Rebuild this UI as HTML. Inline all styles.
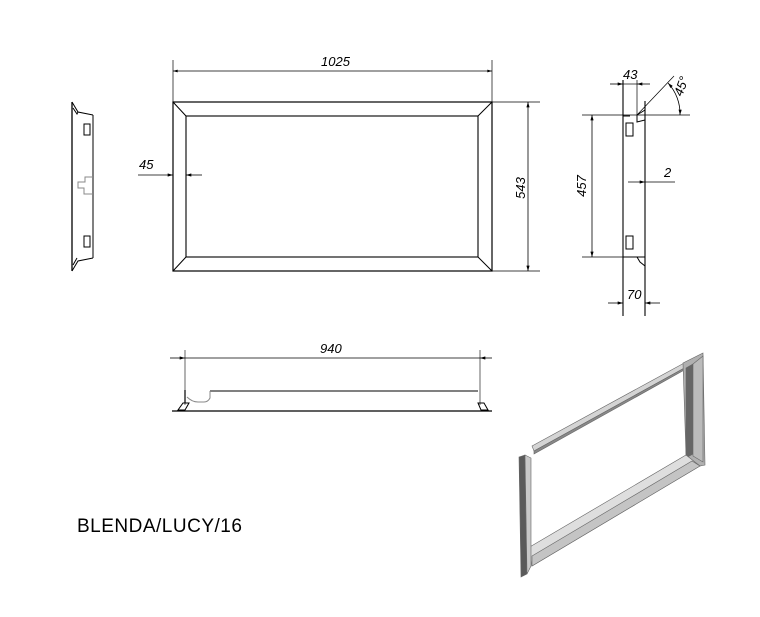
<!DOCTYPE html>
<html><head><meta charset="utf-8"><style>
html,body{margin:0;padding:0;background:#fff;}
svg{display:block;}
text{font-family:"Liberation Sans",sans-serif;font-style:italic;font-size:13px;fill:#000;}
</style></head><body>
<svg width="760" height="617" viewBox="0 0 760 617" xmlns="http://www.w3.org/2000/svg">
<defs>
<marker id="a" viewBox="0 0 10 6" refX="10" refY="3" markerWidth="8" markerHeight="4" orient="auto-start-reverse"><path d="M0,0L10,3L0,6z" fill="#000"/></marker>
</defs>
<g stroke="#000" stroke-width="1" fill="none">
<!-- left side view -->
<line x1="72" y1="102" x2="72" y2="271" stroke-width="1.3"/>
<polyline points="93,115 93,258"/>
<polyline points="72,102 78,112 93,115"/>
<polyline points="72,271 78,261 93,258"/>
<path d="M73,108 L77,114 L78,112" />
<path d="M73,265 L77,258" />
<rect x="84" y="124" width="6" height="11"/>
<rect x="84" y="236" width="6" height="11"/>
<path d="M93,177 H85 V182 H78 V188 H84 V194 H93" stroke="#888"/>
<!-- front view -->
<rect x="173" y="102" width="319" height="169" stroke-width="1.2"/>
<rect x="186" y="116" width="292" height="141" stroke-width="1.1"/>
<line x1="173" y1="102" x2="186" y2="116"/><line x1="492" y1="102" x2="478" y2="116"/>
<line x1="173" y1="271" x2="186" y2="257"/><line x1="492" y1="271" x2="478" y2="257"/>
<line x1="173" y1="60" x2="173" y2="102" stroke-width="0.7"/>
<line x1="492" y1="60" x2="492" y2="102" stroke-width="0.7"/>
<line x1="173" y1="71" x2="492" y2="71" stroke-width="0.7" marker-start="url(#a)" marker-end="url(#a)"/>
<line x1="492" y1="102" x2="540" y2="102" stroke-width="0.7"/>
<line x1="492" y1="271" x2="540" y2="271" stroke-width="0.7"/>
<line x1="528" y1="102" x2="528" y2="271" stroke-width="0.8" marker-start="url(#a)" marker-end="url(#a)"/>
<line x1="138" y1="175" x2="173" y2="175" stroke-width="0.8" marker-end="url(#a)"/>
<line x1="202" y1="175" x2="186" y2="175" stroke-width="0.8" marker-end="url(#a)"/>
<!-- right side view -->
<line x1="623" y1="80" x2="623" y2="316" stroke-width="1.1"/>
<line x1="645" y1="101" x2="645" y2="316" stroke-width="1.1"/>
<line x1="637" y1="80" x2="637" y2="115" stroke-width="0.7"/>
<line x1="610" y1="84" x2="623" y2="84" stroke-width="0.8" marker-end="url(#a)"/>
<line x1="623" y1="84" x2="637" y2="84" stroke-width="0.7"/>
<line x1="650" y1="84" x2="637" y2="84" stroke-width="0.8" marker-end="url(#a)"/>
<line x1="582" y1="115" x2="690" y2="115" stroke-width="0.8"/>
<line x1="637" y1="115" x2="674" y2="76" stroke-width="0.7"/>
<path d="M668,83 A45,45 0 0 1 680,115" stroke-width="0.8" marker-start="url(#a)" marker-end="url(#a)"/>
<polygon points="637,115 645,110 645,120 637,122"/>
<polyline points="623,116 630,116"/>
<polygon points="637,257 645,257 645,266 640,262" />
<polyline points="623,257 637,257"/>
<rect x="626" y="123" width="7" height="13"/>
<rect x="626" y="236" width="7" height="13"/>
<line x1="582" y1="257" x2="623" y2="257" stroke-width="0.7"/>
<line x1="592" y1="115" x2="592" y2="257" stroke-width="0.8" marker-start="url(#a)" marker-end="url(#a)"/>
<line x1="628" y1="182" x2="645" y2="182" stroke-width="0.8" marker-end="url(#a)"/>
<line x1="675" y1="182" x2="645" y2="182" stroke-width="0.8"/>
<line x1="608" y1="303" x2="623" y2="303" stroke-width="0.8" marker-end="url(#a)"/>
<line x1="660" y1="303" x2="645" y2="303" stroke-width="0.8" marker-end="url(#a)"/>
<!-- bottom view -->
<line x1="185" y1="350" x2="185" y2="405" stroke-width="0.6"/>
<line x1="480" y1="350" x2="480" y2="405" stroke-width="0.6"/>
<line x1="170" y1="358" x2="185" y2="358" stroke-width="0.8" marker-end="url(#a)"/>
<line x1="185" y1="358" x2="480" y2="358" stroke-width="0.8"/>
<line x1="492" y1="358" x2="480" y2="358" stroke-width="0.8" marker-end="url(#a)"/>
<line x1="210" y1="391" x2="478" y2="391" stroke-width="1.1"/>
<path d="M210,391 V398 Q208,402 204,402 H198 Q192,402 187,397" stroke="#888"/>
<line x1="172" y1="411" x2="492" y2="411" stroke-width="1.3"/>
<polygon points="183,403 189,403 185,410 178,410"/>
<polygon points="478,403 484,403 488,410 481,410"/>
<line x1="185" y1="390" x2="185" y2="403" stroke-width="1.2"/>
</g>
<!-- 3D frame -->
<g stroke="#666" stroke-width="0.6">
<polygon points="532,446 686,362 688,366 534,451" fill="#d4d4d4"/>
<polygon points="534,451 688,366 688,368 534,454" fill="#888"/>
<polygon points="683,363 703,353 705,465 690,468 686,455" fill="#b0b0b0"/>
<polygon points="686,368 693,364 693,454 686,458" fill="#666"/>
<polygon points="693,364 703,356 703,462 693,456" fill="#bbb"/>
<polygon points="528,548 686,455 700,466 532,566" fill="#dedede"/>
<polygon points="532,556 692,461 700,466 532,566" fill="#c4c4c4"/>
<polygon points="519,457 525,455 527,574 521,577" fill="#5a5a5a"/>
<polygon points="525,455 531,458 531,566 527,574" fill="#c8c8c8"/>
</g>
<text x="321" y="66">1025</text>
<text x="139" y="169">45</text>
<text transform="translate(525,188) rotate(-90)" text-anchor="middle">543</text>
<text x="623" y="79">43</text>
<text transform="translate(586,186) rotate(-90)" text-anchor="middle">457</text>
<text x="664" y="177">2</text>
<text x="627" y="299">70</text>
<text transform="translate(682,97) rotate(-70)">45°</text>
<text x="320" y="353">940</text>
<text x="77" y="532" style="font-style:normal;font-size:19px;letter-spacing:0.5px">BLENDA/LUCY/16</text>
</svg>
</body></html>
